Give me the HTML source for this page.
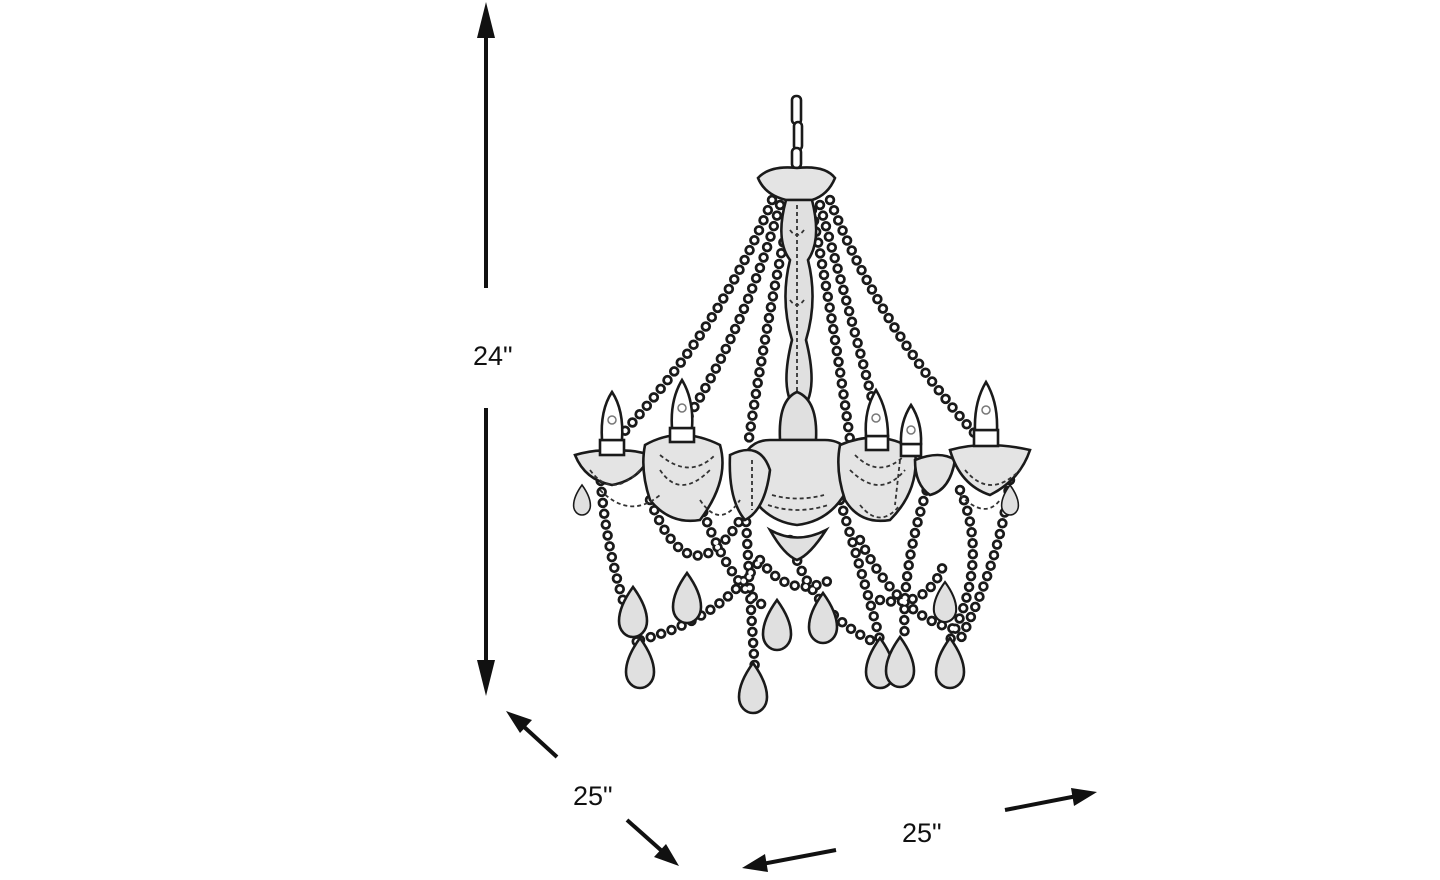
<!DOCTYPE html>
<html><head><meta charset="utf-8"><style>
html,body{margin:0;padding:0;background:#fff;width:1440px;height:880px;overflow:hidden}
svg{display:block}
.t{font-family:"Liberation Sans",sans-serif;font-size:27px;fill:#111}
.b1{fill:none;stroke:#1a1a1a;stroke-width:10.5;stroke-linecap:round;stroke-dasharray:0 11}
.b2{fill:none;stroke:#fff;stroke-width:5;stroke-linecap:round;stroke-dasharray:0 11}
.o{fill:#e4e4e4;stroke:#1a1a1a;stroke-width:2.6}
.w{fill:#fff;stroke:#1a1a1a;stroke-width:2.6}
.g{fill:#e0e0e0;stroke:#1a1a1a;stroke-width:2.6}
.s{fill:none;stroke:#333;stroke-width:1.8;stroke-dasharray:4 3}
</style></head><body>
<svg width="1440" height="880" viewBox="0 0 1440 880">
<defs>
<path id="dr" d="M0,-25 C8,-14 14,-2 14,9 C14,19 7,25 0,25 C-7,25 -14,19 -14,9 C-14,-2 -8,-14 0,-25Z" class="g"/>
<g id="chp">
<path d="M772,200 Q720,330 612,445"/>
<path d="M780,205 Q745,330 680,430"/>
<path d="M790,210 Q765,330 748,445"/>
<path d="M812,210 Q835,330 850,440"/>
<path d="M820,205 Q855,330 880,430"/>
<path d="M830,200 Q880,330 985,445"/>
<path d="M600,470 Q605,560 640,650"/>
<path d="M640,640 Q720,620 760,560"/>
<path d="M650,500 Q690,600 740,520"/>
<path d="M690,470 Q720,580 770,610"/>
<path d="M745,500 Q750,600 755,670"/>
<path d="M760,560 Q790,600 830,580"/>
<path d="M790,540 Q810,610 870,640"/>
<path d="M840,500 Q870,600 880,640"/>
<path d="M860,540 Q900,620 960,630"/>
<path d="M930,480 Q900,570 905,640"/>
<path d="M960,490 Q990,560 950,640"/>
<path d="M1010,480 Q1000,560 960,640"/>
<path d="M880,600 Q930,610 945,560"/>
</g>
</defs>
<g stroke="#111" stroke-width="4" fill="none">
<line x1="486" y1="288" x2="486" y2="22"/>
<line x1="486" y1="408" x2="486" y2="674"/>
<line x1="557" y1="757" x2="522" y2="725"/>
<line x1="627" y1="820" x2="663" y2="852"/>
<line x1="836" y1="850" x2="762" y2="864"/>
<line x1="1005" y1="810" x2="1077" y2="796"/>
</g>
<g fill="#111">
<path d="M486,2 L477,38 L495,38Z"/>
<path d="M486,696 L477,660 L495,660Z"/>
<path d="M506,711 L532,720 L520,733Z"/>
<path d="M679,866 L654,857 L666,844Z"/>
<path d="M742,868 L765,854 L768,872Z"/>
<path d="M1097,792 L1074,806 L1071,788Z"/>
</g>
<text class="t" x="473" y="365">24"</text>
<text class="t" x="573" y="805">25"</text>
<text class="t" x="902" y="842">25"</text>

<g class="w"><rect x="792" y="96" width="9" height="28" rx="4"/><rect x="794" y="122" width="8" height="28" rx="4"/><rect x="792" y="148" width="9" height="20" rx="4"/></g>
<use href="#chp" class="b1"/>
<use href="#chp" class="b2"/>
<path class="o" d="M758,178 Q770,165 797,168 Q825,165 835,178 Q828,195 812,200 L786,200 Q765,195 758,178Z"/>
<path class="g" d="M786,200 Q775,240 790,260 Q780,300 792,340 Q782,380 790,400 L808,400 Q816,380 806,340 Q818,300 808,260 Q822,240 812,200Z"/>
<path class="s" d="M797,205 L797,395 M790,230 Q797,240 804,230 M790,300 Q797,310 804,300"/>
<path class="g" d="M780,440 Q778,400 797,392 Q818,400 816,440 Z"/>
<path class="o" d="M740,470 Q745,440 770,440 L825,440 Q850,440 855,470 Q840,520 797,525 Q755,520 740,470Z"/>
<path class="s" d="M768,505 Q797,515 828,505 M772,495 Q797,502 824,495"/>
<path class="g" d="M770,530 Q797,545 826,530 Q810,555 797,560 Q784,555 770,530Z"/>
<g class="o">
<path d="M575,455 Q600,448 612,452 Q630,448 650,455 Q640,480 612,485 Q585,480 575,455Z"/>
<path d="M645,445 Q680,425 720,445 Q730,480 700,520 Q670,525 650,500 Q640,470 645,445Z"/>
<path d="M730,455 Q760,440 770,470 Q765,510 745,520 Q728,500 730,455Z"/>
<path d="M840,445 Q880,428 915,450 Q920,490 890,520 Q860,525 845,500 Q835,470 840,445Z"/>
<path d="M915,460 Q940,450 955,460 Q950,490 930,495 Q915,485 915,460Z"/>
<path d="M950,450 Q985,440 1030,450 Q1020,480 990,495 Q960,485 950,450Z"/>
</g>
<g class="s">
<path d="M590,470 Q612,500 640,470 M660,470 Q680,500 710,470 M850,470 Q880,500 905,470 M965,470 Q990,500 1020,470"/>
<path d="M600,490 Q630,520 660,495 M700,500 Q720,530 740,500 M860,505 Q880,530 900,505 M960,495 Q985,520 1000,500"/>
<path d="M660,455 Q690,480 715,455 M855,455 Q880,480 905,455 M752,460 L752,510 M900,460 L895,505"/>
</g>
<g class="w">
<rect x="600" y="440" width="24" height="15"/>
<rect x="670" y="428" width="24" height="14"/>
<rect x="866" y="436" width="22" height="14"/>
<rect x="901" y="444" width="20" height="12"/>
<rect x="974" y="430" width="24" height="16"/>
<path d="M612,392 Q600,410 602,440 L622,440 Q624,410 612,392Z"/>
<path d="M682,380 Q670,400 672,428 L692,428 Q694,400 682,380Z"/>
<path d="M876,390 Q864,410 866,436 L888,436 Q888,410 876,390Z"/>
<path d="M911,405 Q900,422 901,444 L921,444 Q922,422 911,405Z"/>
<path d="M986,382 Q974,402 975,430 L997,430 Q998,402 986,382Z"/>
</g>
<g fill="none" stroke="#777" stroke-width="1.5"><circle cx="612" cy="420" r="4"/><circle cx="682" cy="408" r="4"/><circle cx="876" cy="418" r="4"/><circle cx="911" cy="430" r="4"/><circle cx="986" cy="410" r="4"/></g>
<use href="#dr" transform="translate(582 500) scale(.6)"/>
<use href="#dr" transform="translate(1010 500) scale(.6)"/>
<use href="#dr" transform="translate(687 598)"/>
<use href="#dr" transform="translate(633 612)"/>
<use href="#dr" transform="translate(640 663)"/>
<use href="#dr" transform="translate(753 688)"/>
<use href="#dr" transform="translate(777 625)"/>
<use href="#dr" transform="translate(823 618)"/>
<use href="#dr" transform="translate(880 663)"/>
<use href="#dr" transform="translate(900 662)"/>
<use href="#dr" transform="translate(950 663)"/>
<use href="#dr" transform="translate(945 602) scale(.8)"/>
</svg>
</body></html>
